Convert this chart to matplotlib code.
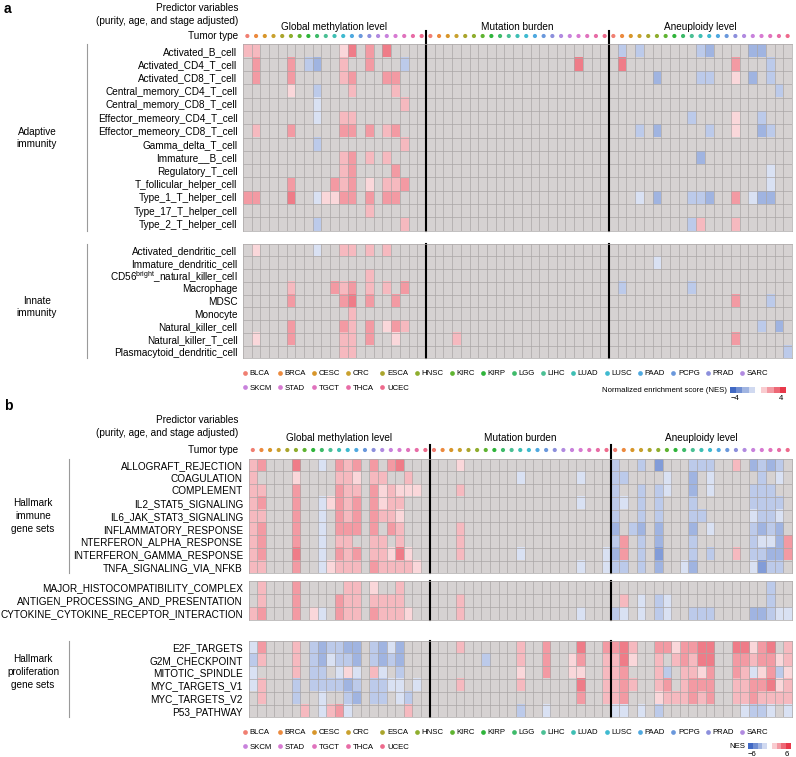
import numpy as np
import matplotlib
matplotlib.use("Agg")
import matplotlib.pyplot as plt
from matplotlib.colors import LinearSegmentedColormap
from matplotlib.lines import Line2D
from matplotlib.transforms import ScaledTranslation

plt.rcParams['font.family'] = ['Liberation Sans', 'DejaVu Sans']

W, H = 796, 757

tumor_types = ['BLCA', 'BRCA', 'CESC', 'CRC', 'ESCA', 'HNSC', 'KIRC', 'KIRP', 'LGG', 'LIHC', 'LUAD',
               'LUSC', 'PAAD', 'PCPG', 'PRAD', 'SARC', 'SKCM', 'STAD', 'TGCT', 'THCA', 'UCEC']
tumor_colors = ['#f07f72', '#ec8a3e', '#d8962a', '#c9a12e', '#aaa52c', '#8fae2e', '#5fb431', '#2fb43a',
                '#3fbb6a', '#4bc095', '#3ebfb4', '#3fbad0', '#4fa9e0', '#6a98dc', '#8c8fdc', '#b18ae0',
                '#c882dc', '#d77ad2', '#e072bd', '#e86ca6', '#ee6a8c']
predictors = ['Global methylation level', 'Mutation burden', 'Aneuploidy level']

# NES values of significant cells, "column:NES" (column = predictor*21 + tumor index), rest is NA
adaptive_labels = ['Activated_B_cell', 'Activated_CD4_T_cell', 'Activated_CD8_T_cell',
                   'Central_memory_CD4_T_cell', 'Central_memory_CD8_T_cell', 'Effector_memeory_CD4_T_cell',
                   'Effector_memeory_CD8_T_cell', 'Gamma_delta_T_cell', 'Immature__B_cell', 'Regulatory_T_cell',
                   'T_follicular_helper_cell', 'Type_1_T_helper_cell', 'Type_17_T_helper_cell',
                   'Type_2_T_helper_cell']
adaptive_nes = [
    "0:1.4 1:1.4 11:0.8 12:2.6 14:2.0 16:2.6 43:-1.4 45:-1.4 52:-1.4 53:-2.0 58:-2.0 59:-2.0",
    "1:2.0 5:2.0 7:-1.4 8:-2.0 11:1.4 14:2.0 18:-1.4 38:2.6 43:2.6 56:2.0 60:-1.4",
    "1:2.0 5:2.0 11:1.4 12:2.0 16:2.0 17:2.0 47:-2.0 52:-1.4 53:-1.4 56:0.8 58:-2.0 60:-1.4",
    "5:0.8 8:-1.4 12:1.4 17:1.4 61:-1.4",
    "8:-0.8 18:1.4",
    "8:-0.8 11:1.4 12:1.4 51:-1.4 56:0.8 59:-1.4",
    "1:1.4 5:2.0 11:2.0 12:2.0 14:2.0 16:1.4 17:2.0 45:-1.4 47:-2.0 53:-1.4 56:0.8 59:-2.0 60:-1.4",
    "8:-1.4 18:1.4",
    "11:1.4 12:2.0 14:1.4 16:1.4 52:-2.0",
    "11:1.4 12:2.0 17:2.0 60:-0.8",
    "5:2.0 10:2.0 11:1.4 12:2.0 14:0.8 16:1.4 17:1.4 18:2.0 60:-0.8",
    "0:2.0 1:2.0 5:2.6 8:-0.8 9:0.8 10:0.8 11:2.0 12:2.0 14:2.0 16:2.0 17:2.0 45:-0.8 47:-2.0 51:-1.4 "
    "52:-1.4 53:-2.0 56:2.0 58:-0.8 59:-2.0 60:-2.0",
    "14:1.4",
    "8:-1.4 18:1.4 51:-1.4 52:1.4 56:1.4",
]

innate_labels = ['Activated_dendritic_cell', 'Immature_dendritic_cell',
                 r'CD56$^{\mathregular{bright}}$_natural_killer_cell', 'Macrophage', 'MDSC', 'Monocyte',
                 'Natural_killer_cell', 'Natural_killer_T_cell', 'Plasmacytoid_dendritic_cell']
innate_nes = [
    "1:0.8 8:-0.8 11:1.4 12:1.4 14:1.4 16:1.4",
    "47:-0.8",
    "14:1.4",
    "5:1.4 10:2.0 11:1.4 12:2.0 14:1.4 16:1.4 18:2.0 43:-1.4 51:-1.4",
    "5:2.0 11:2.0 12:2.6 14:2.0 17:2.0 56:2.0 60:-1.4",
    "12:1.4",
    "5:2.0 11:2.0 12:1.4 14:2.0 16:0.8 17:2.0 18:1.4 59:-1.4 61:-2.0",
    "1:0.8 5:2.0 11:1.4 12:1.4 14:2.0 17:0.8 24:1.4 56:2.0",
    "11:1.4 12:1.4 62:-1.4",
]

immune_labels = ['ALLOGRAFT_REJECTION', 'COAGULATION', 'COMPLEMENT', 'IL2_STAT5_SIGNALING',
                 'IL6_JAK_STAT3_SIGNALING', 'INFLAMMATORY_RESPONSE', 'NTERFERON_ALPHA_RESPONSE',
                 'INTERFERON_GAMMA_RESPONSE', 'TNFA_SIGNALING_VIA_NFKB']
immune_nes = [
    "0:2.1 1:3.0 5:3.9 8:-1.2 10:3.0 11:2.1 12:3.0 14:3.0 16:3.0 17:3.9 24:1.2 42:-2.1 45:-2.1 47:-3.9 "
    "51:-2.1 52:-2.1 53:-2.1 56:2.1 58:-3.0 59:-2.1 60:-3.0 61:-2.1",
    "0:2.1 5:1.2 10:2.1 11:2.1 12:1.2 14:2.1 15:2.1 18:2.1 31:-1.2 38:-1.2 42:-2.1 43:-2.1 48:-1.2 "
    "51:-3.0 53:-1.2 59:-2.1 61:-1.2",
    "0:2.1 1:2.1 5:3.0 10:3.0 11:2.1 12:2.1 14:3.0 15:1.2 16:2.1 17:1.2 18:1.2 19:1.2 24:2.1 42:-2.1 "
    "45:-2.1 47:-2.1 48:-1.2 51:-3.0 53:-1.2 58:-2.1 59:-2.1 60:-2.1",
    "0:2.1 1:3.0 5:3.0 8:-1.2 9:1.2 10:3.0 11:2.1 12:3.0 14:3.0 15:1.2 16:2.1 17:2.1 38:-1.2 42:-2.1 "
    "43:-1.2 45:-2.1 47:-2.1 51:-2.1 58:-2.1 59:-2.1 60:-2.1 61:-2.1",
    "0:2.1 1:2.1 5:3.0 8:-1.2 10:3.0 11:2.1 12:3.0 14:3.0 15:2.1 16:2.1 17:1.2 42:-2.1 45:-2.1 47:-2.1 "
    "51:-2.1 52:-2.1 58:-1.2 59:-2.1 60:-2.1 61:-1.2",
    "0:2.1 1:3.0 5:3.0 8:-1.2 10:3.0 11:3.0 12:3.0 14:3.0 16:3.0 17:2.1 24:2.1 42:-3.0 44:-2.1 45:-3.0 "
    "47:-3.0 51:-3.0 53:-1.2 58:-2.1 59:-3.0 60:-2.1 61:-3.0",
    "0:2.1 1:3.0 5:3.0 8:-1.2 10:2.1 11:2.1 14:2.1 15:2.1 17:2.1 24:2.1 42:-2.1 43:3.0 45:-2.1 47:-3.0 "
    "51:-2.1 58:-2.1 59:-1.2 60:-1.2 61:-3.0 62:3.0",
    "0:2.1 1:3.0 5:3.9 8:-1.2 10:3.0 11:2.1 12:3.0 14:2.1 15:2.1 16:1.2 17:3.9 18:1.2 24:2.1 31:-1.2 "
    "41:-1.2 42:-3.0 43:3.0 45:-2.1 47:-3.9 51:-2.1 53:-2.1 56:2.1 58:-2.1 59:-2.1 60:-3.0 61:-3.0 62:3.0",
    "0:2.1 1:2.1 5:3.0 8:-1.2 9:1.2 10:2.1 11:2.1 12:2.1 14:3.0 15:2.1 16:2.1 17:2.1 18:2.1 19:1.2 "
    "38:-1.2 41:-1.2 42:-2.1 43:-2.1 45:-2.1 47:-3.0 50:-1.2 51:-3.0 58:-1.2 59:-3.9 60:-2.1 61:-2.1",
]

other_labels = ['MAJOR_HISTOCOMPATIBILITY_COMPLEX', 'ANTIGEN_PROCESSING_AND_PRESENTATION',
                'CYTOKINE_CYTOKINE_RECEPTOR_INTERACTION']
other_nes = [
    "1:2.1 5:3.0 11:2.1 12:2.1 14:1.2 17:2.1 60:-2.1",
    "1:2.1 5:3.0 10:3.0 11:2.1 12:2.1 14:2.1 15:2.1 16:2.1 17:2.1 24:2.1 43:2.1 45:-1.2 47:-2.1 "
    "48:-1.2 60:-2.1",
    "0:2.1 1:3.0 5:3.0 7:1.2 8:-1.2 10:3.0 11:2.1 12:2.1 14:3.0 15:2.1 16:2.1 17:2.1 18:1.2 24:2.1 "
    "38:-1.2 42:-2.1 43:-1.2 45:-1.2 47:-2.1 48:-1.2 51:-2.1 52:-2.1 53:-2.1 58:-3.0 59:-3.0 60:-2.1 "
    "61:-1.2 62:-1.2",
]

prolif_labels = ['E2F_TARGETS', 'G2M_CHECKPOINT', 'MITOTIC_SPINDLE', 'MYC_TARGETS_V1', 'MYC_TARGETS_V2',
                 'P53_PATHWAY']
prolif_nes = [
    "0:-1.2 1:3.0 5:2.1 7:-2.1 8:-3.0 9:-2.1 10:-2.1 11:-3.0 12:-3.0 14:-2.1 15:-3.0 16:-1.2 17:-3.0 "
    "24:2.1 31:2.1 34:3.0 38:3.9 41:3.0 42:3.0 43:3.9 44:2.1 47:3.0 48:3.0 49:1.2 50:3.0 51:3.0 52:3.9 "
    "53:3.9 56:3.9 57:3.9 58:1.2 59:3.0 60:3.9 62:2.1",
    "0:-2.1 1:2.1 5:2.1 7:-2.1 8:-3.0 9:-1.2 10:-2.1 11:-2.1 12:-3.0 14:-2.1 15:-3.0 16:-2.1 17:-3.0 "
    "27:-2.1 31:2.1 34:3.0 37:1.2 38:3.0 41:2.1 42:2.1 43:3.9 44:1.2 47:2.1 49:2.1 50:3.0 51:2.1 52:3.9 "
    "53:3.9 56:3.0 57:3.0 58:2.1 59:3.0 60:3.0 61:1.2 62:2.1",
    "0:-1.2 5:2.1 7:-2.1 8:-2.1 10:-1.2 11:1.2 12:-1.2 14:2.1 15:-1.2 17:-2.1 31:1.2 34:3.0 37:1.2 "
    "38:1.2 41:2.1 42:2.1 43:3.0 47:2.1 48:-2.1 50:2.1 51:2.1 52:1.2 53:3.0 56:3.0 57:2.1 58:-1.2 59:1.2 "
    "60:3.0 61:-2.1 62:1.2",
    "0:-1.2 1:2.1 5:-2.1 7:-2.1 8:-2.1 9:-2.1 10:-2.1 11:-3.0 12:-2.1 14:-2.1 15:-2.1 16:-1.2 17:-1.2 "
    "19:-1.2 24:2.1 31:2.1 38:3.9 41:2.1 42:2.1 43:3.0 44:2.1 47:2.1 48:3.0 50:2.1 51:3.0 52:3.0 53:3.0 "
    "56:2.1 57:2.1 58:3.0 59:3.0 60:3.9 61:1.2 62:2.1",
    "1:2.1 5:-2.1 8:-1.2 11:-2.1 12:-3.0 14:-2.1 15:-2.1 17:-1.2 18:-2.1 38:3.0 41:2.1 42:2.1 43:3.0 "
    "47:1.2 48:2.1 49:2.1 50:2.1 51:3.0 52:2.1 53:3.0 56:2.1 57:2.1 58:3.0 59:2.1 60:2.1 61:2.1 62:2.1",
    "6:2.1 8:-1.2 9:2.1 10:3.0 11:-1.2 18:2.1 31:-2.1 34:-1.2 42:-1.2 43:-1.2 45:-1.2 47:-2.1 57:-1.2 "
    "58:-2.1 59:-2.1 60:-1.2 62:-1.2",
]

NCOL = 3 * len(tumor_types)
NA_COLOR = '#d6d2d2'
GRID_COLOR = '#aaa6a6'
cmap = LinearSegmentedColormap.from_list('nes', ['#4169c4', '#ffffff', '#e8384a']).with_extremes(bad=NA_COLOR)
FS = 7.2

fig = plt.figure(figsize=(W / 100, H / 100), dpi=100)


def parse(rows):
    grid = np.full((len(rows), NCOL), np.nan)
    for r, s in enumerate(rows):
        for tok in s.split():
            c, v = tok.split(':')
            grid[r, int(c)] = float(v)
    return grid


def px_axes(x0, y0, x1, y1):
    return fig.add_axes([x0 / W, 1 - y1 / H, (x1 - x0) / W, (y1 - y0) / H])


def ftext(x, y, s, **kw):
    kw.setdefault('fontsize', FS)
    kw.setdefault('va', 'center')
    fig.text(x / W, 1 - y / H, s, **kw)


def block(x0, x1, y0, y1, labels, rows, vmax, sep_top=None):
    n = len(labels)
    ax = px_axes(x0, y0, x1, y1)
    ax.imshow(parse(rows), cmap=cmap, vmin=-vmax, vmax=vmax, aspect='auto',
              interpolation='nearest', extent=(0, NCOL, n, 0))
    ax.set_xlim(0, NCOL)
    ax.set_ylim(n, 0)
    ax.hlines(np.arange(1, n), 0, NCOL, color=GRID_COLOR, lw=0.5)
    ax.vlines(np.arange(1, NCOL), 0, n, color=GRID_COLOR, lw=0.5)
    for sp in ax.spines.values():
        sp.set_color(GRID_COLOR)
        sp.set_linewidth(0.5)
    ax.set_xticks([])
    ax.set_yticks(np.arange(n) + 0.5)
    ax.set_yticklabels(labels, fontsize=FS)
    ax.tick_params(axis='y', length=0, pad=4)
    ext = 0 if sep_top is None else (y0 - sep_top) / (y1 - y0)
    for g in (21, 42):
        ax.axvline(g, ymin=0, ymax=1 + ext, color='black', lw=1.5, clip_on=False)
    return ax


def header(letter, x0, x1, ys):
    y_letter, y_pred, y_adj, y_title, y_dots = ys
    ftext(4, y_letter, letter, fontsize=10, fontweight='bold')
    ftext(238, y_pred, 'Predictor variables', ha='right')
    ftext(238, y_adj, '(purity, age, and stage adjusted)', ha='right')
    ftext(238, y_dots, 'Tumor type', ha='right')
    dax = px_axes(x0, y_dots - 4, x1, y_dots + 4)
    dax.set_xlim(0, NCOL)
    dax.set_ylim(-1, 1)
    dax.axis('off')
    dax.scatter(np.arange(NCOL) + 0.5, np.zeros(NCOL), s=9, c=tumor_colors * 3, linewidths=0)
    shift = ScaledTranslation(0, (y_dots - y_title) / 100, fig.dpi_scale_trans)
    for k, p in enumerate(predictors):
        dax.text(21 * k + 10.5, 0, p, ha='center', va='center', fontsize=FS,
                 transform=dax.transData + shift)


def bracket(x, y0, y1, text, tx, ty):
    fig.add_artist(Line2D([x / W, x / W], [1 - y0 / H, 1 - y1 / H], color='#9a9a9a', lw=0.8))
    ftext(tx, ty, text, ha='center', linespacing=1.35)


def legend(y_row, cbar, vmax, title):
    order = []
    for i in range(16):
        order.append(i)
        if i + 16 < len(tumor_types):
            order.append(i + 16)
    handles = [Line2D([], [], ls='', marker='o', ms=3.4, mec='none', mfc=tumor_colors[i]) for i in order]
    fig.legend(handles, [tumor_types[i] for i in order], loc='upper left', ncol=16, frameon=False,
               bbox_to_anchor=(243 / W, 1 - (y_row - 4) / H), fontsize=5.6, handlelength=0.5,
               handletextpad=0.35, columnspacing=0.8, labelspacing=0.9, borderpad=0, borderaxespad=0)
    cx0, cy0, cx1, cy1 = cbar
    ftext(cx0 - 3, (cy0 + cy1) / 2, title, ha='right', fontsize=5.6)
    cax = px_axes(cx0, cy0, cx1, cy1)
    steps = np.linspace(-vmax, vmax, 9)
    cax.imshow(steps[None, :], cmap=cmap, vmin=-vmax, vmax=vmax, aspect='auto', interpolation='nearest')
    for sp in cax.spines.values():
        sp.set_visible(False)
    cax.set_yticks([])
    cax.set_xticks([0.3, 7.7])
    cax.set_xticklabels(['\u2212%d' % vmax, '%d' % vmax], fontsize=5.6)
    cax.tick_params(axis='x', length=0, pad=1.5)


# panel a
ax0, ax1 = 243, 792
header('a', ax0, ax1, (9, 8, 21, 27, 36))
block(ax0, ax1, 44.3, 230.7, adaptive_labels, adaptive_nes, 4, sep_top=31)
block(ax0, ax1, 243.6, 358.4, innate_labels, innate_nes, 4)
bracket(87, 44.3, 230.7, 'Adaptive\nimmunity', 37, 138)
bracket(87, 243.6, 358.4, 'Innate\nimmunity', 37, 307)
legend(374, (730, 387, 786, 393), 4, 'Normalized enrichment score (NES)')

# panel b
bx0, bx1 = 248.5, 792
header('b', bx0, bx1, (406, 420, 433, 438, 450))
block(bx0, bx1, 458.6, 573.4, immune_labels, immune_nes, 6, sep_top=445)
block(bx0, bx1, 580.5, 619.5, other_labels, other_nes, 6)
block(bx0, bx1, 640.6, 717.4, prolif_labels, prolif_nes, 6)
bracket(69, 458.6, 573.4, 'Hallmark\nimmune\ngene sets', 33, 516)
bracket(69, 640.6, 717.4, 'Hallmark\nproliferation\ngene sets', 33, 672)
legend(733, (748, 743, 791, 749), 6, 'NES')

fig.savefig('out.png', dpi=100)
